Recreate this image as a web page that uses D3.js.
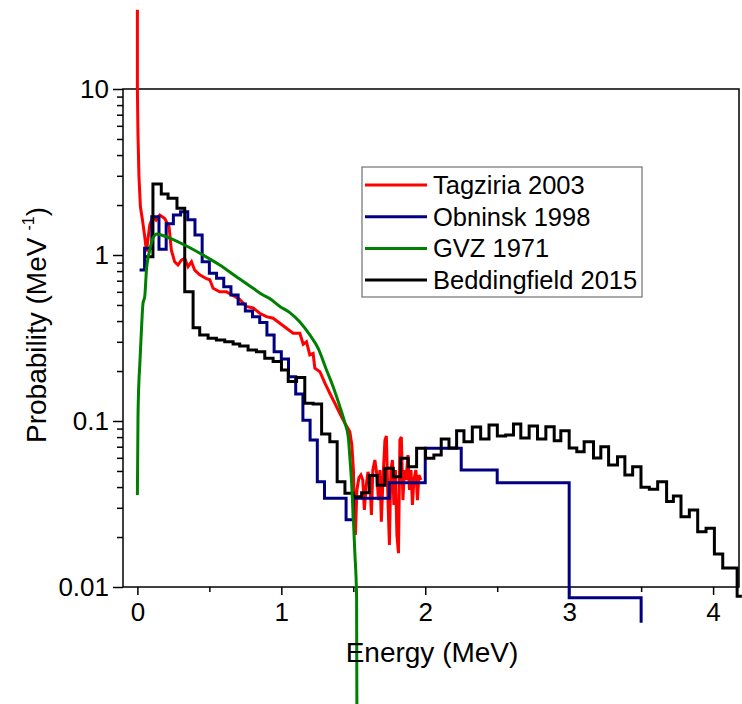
<!DOCTYPE html>
<html><head><meta charset="utf-8">
<script src="https://cdn.jsdelivr.net/npm/d3@7"></script>
<style>body{margin:0;background:#fff;} svg{display:block;} text{font-family:"Liberation Sans",Arial,sans-serif;}</style>
</head><body>
<svg id="c" width="742" height="704"></svg>
<script>
// ---------- data ----------
const seriesNames = ["Tagziria 2003", "Obninsk 1998", "GVZ 1971", "Beddingfield 2015"];
const xTicks = [0, 1, 2, 3, 4];
const xMinorTicks = [0.5, 1.5, 2.5, 3.5];
const yTicks = [0.01, 0.1, 1, 10];
const yTickLabels = ["0.01", "0.1", "1", "10"];

// Tagziria 2003 (line)
const redE = [0.000,0.000,0.004,0.011,0.021,0.035,0.051,0.063,0.086,0.108,0.130,0.155,0.190,0.220,0.236,0.259,0.282,0.306,0.329,0.352,0.376,0.398,0.433,0.480,0.503,0.526,0.572,0.619,0.665,0.711,0.758,0.804,0.850,0.897,0.943,0.990,1.036,1.082,1.129,1.152,1.175,1.198,1.221,1.233,1.268,1.303,1.337,1.372,1.407,1.442,1.476,
  1.490,1.501,1.508,1.515,1.525,1.539,1.553,1.566,1.577,1.588,1.602,1.615,1.626,1.636,1.650,1.664,1.675,1.685,1.695,1.706,1.720,1.730,1.741,1.751,1.761,1.772,1.782,1.793,1.803,1.814,1.824,1.834,1.845,1.855,1.866,1.880,1.890,1.901,1.911,1.921,1.935,1.946,1.956,1.970];
const redP = [30,10,5.4,2.96,1.95,1.63,1.29,1.05,1.52,1.70,1.62,1.74,1.66,1.48,1.07,0.91,0.87,0.93,0.955,0.85,0.91,0.81,0.76,0.72,0.71,0.63,0.60,0.60,0.57,0.54,0.49,0.48,0.446,0.425,0.416,0.388,0.362,0.338,0.338,0.290,0.300,0.250,0.255,0.208,0.198,0.169,0.147,0.128,0.111,0.097,0.086,
  0.0717,0.0507,0.0254,0.0206,0.0384,0.0454,0.0473,0.0441,0.0291,0.0395,0.0493,0.0454,0.0272,0.0507,0.0582,0.0473,0.0334,0.0507,0.0247,0.0441,0.0769,0.0812,0.0334,0.0179,0.0507,0.0582,0.0312,0.0507,0.0206,0.0160,0.0769,0.0801,0.0334,0.0507,0.0441,0.0624,0.0384,0.0507,0.0312,0.0441,0.0507,0.0334,0.0473,0.0441];

// Obninsk 1998 (histogram: bin edges and values)
const blueEdges = [0.015,0.05,0.10,0.15,0.20,0.25,0.30,0.35,0.40,0.45,0.50,0.55,0.60,0.65,0.70,0.75,0.80,0.85,0.90,0.95,1.00,1.05,1.10,1.15,1.20,1.25,1.30,1.45,1.50,1.75,2.00,2.25,2.50,3.00,3.50];
const blueValues = [0.813,1.097,1.70,1.082,1.54,1.74,1.82,1.63,1.32,0.912,0.776,0.724,0.644,0.574,0.507,0.460,0.425,0.392,0.330,0.261,0.236,0.185,0.1455,0.101,0.0769,0.043,0.0342,0.0254,0.0342,0.0425,0.0685,0.0507,0.0425,0.0086];
const blueTail = 0.0061;

// GVZ 1971 (line)
const greenE = [0,0.004,0.011,0.016,0.028,0.039,0.051,0.063,0.086,0.108,0.136,0.167,0.225,0.341,0.456,0.572,0.688,0.804,0.873,0.920,0.990,1.059,1.129,1.198,1.256,1.314,1.360,1.407,1.442,1.465,1.476,1.488,1.499,1.511,1.523,1.525];
const greenP = [0.0358,0.1014,0.1766,0.2124,0.353,0.512,0.561,0.813,1.072,1.262,1.339,1.32,1.262,1.133,1.0,0.871,0.740,0.630,0.574,0.546,0.49,0.450,0.395,0.330,0.274,0.203,0.161,0.122,0.097,0.0804,0.061,0.043,0.0278,0.016,0.0087,0.0019];

// Beddingfield 2015 (histogram)
const blackEdges = [0.051,0.108,0.166,0.213,0.275,0.329,0.387,0.433,0.491,0.549,0.607,0.665,0.711,0.769,0.827,0.885,0.943,1.001,1.048,1.106,1.163,1.221,1.280,1.337,1.388,1.442,1.499,1.558,1.611,1.666,1.720,1.778,1.829,1.882,1.940,2.002,2.060,2.111,2.165,2.218,2.269,2.327,2.385,2.443,2.501,2.559,2.613,2.664,2.722,2.780,2.838,2.896,2.942,3.000,3.053,3.104,3.169,3.220,3.274,3.336,3.387,3.441,3.499,3.557,3.615,3.677,3.724,3.777,3.835,3.893,3.951,4.009,4.067,4.114,4.167,4.200];
const blackValues = [0.977,2.68,2.33,2.20,1.91,0.601,0.365,0.330,0.315,0.308,0.300,0.291,0.283,0.268,0.261,0.239,0.228,0.203,0.173,0.183,0.128,0.1265,0.0836,0.075,0.043,0.0367,0.035,0.037,0.047,0.041,0.0519,0.0461,0.0596,0.053,0.0685,0.0596,0.0624,0.078,0.0688,0.0874,0.075,0.092,0.078,0.0946,0.0813,0.0824,0.096,0.079,0.0933,0.078,0.0924,0.076,0.0874,0.0688,0.0653,0.075,0.0598,0.070,0.0543,0.061,0.0473,0.053,0.0399,0.0388,0.043,0.0327,0.0353,0.0265,0.0291,0.0215,0.0226,0.0158,0.0130,0.0130,0.0088];

const colors = ["#ff0000", "#000080", "#008000", "#000000"];

// ---------- chart ----------
const svg = d3.select("#c");
const L = 123, R = 739, T = 89, B = 587;
const x = d3.scaleLinear().domain([-0.1, 4.18]).range([L, R]);
const y = d3.scaleLog().domain([0.01, 10]).range([B, T]);

function stepPoints(edges, vals, tail) {
  const pts = [];
  vals.forEach((v, i) => { pts.push([edges[i], v]); pts.push([edges[i + 1], v]); });
  if (tail !== undefined) pts.push([edges[edges.length - 1], tail]);
  return pts;
}
const line = d3.line().x(d => x(d[0])).y(d => y(d[1]));
const smooth = d3.line().x(d => x(d[0])).y(d => y(d[1])).curve(d3.curveMonotoneX);

// frame
svg.append("rect").attr("x", L).attr("y", T).attr("width", R - L).attr("height", B - T)
  .attr("fill", "none").attr("stroke", "#000").attr("stroke-width", 1.5);

// axes
const fs = 26;
svg.append("g").attr("transform", `translate(0,${B})`)
  .call(d3.axisBottom(x).tickValues(xTicks).tickFormat(d3.format("d")).tickSize(8).tickPadding(8));
svg.append("g").attr("transform", `translate(0,${B})`)
  .call(d3.axisBottom(x).tickValues(xMinorTicks).tickFormat("").tickSize(5));
svg.append("g").attr("transform", `translate(${L},0)`)
  .call(d3.axisLeft(y).tickValues(yTicks).tickFormat((d, i) => yTickLabels[i]).tickSize(10).tickPadding(4));
const minors = [];
[0.01, 0.1, 1].forEach(b => { for (let k = 2; k <= 9; k++) minors.push(b * k); });
svg.append("g").attr("transform", `translate(${L},0)`)
  .call(d3.axisLeft(y).tickValues(minors).tickFormat("").tickSize(6));
svg.selectAll(".domain").remove();
svg.selectAll(".tick line").attr("stroke", "#000").attr("stroke-width", 1.5);
svg.selectAll(".tick text").attr("font-size", fs).attr("fill", "#000")
  .style("font-family", "'Liberation Sans', Arial, sans-serif");

// series
const g = svg.append("g").attr("fill", "none").attr("stroke-width", 3).attr("stroke-linejoin", "miter");
const redPts = redE.map((e, i) => [e, redP[i]]);
g.append("path").attr("d", line(redPts)).attr("stroke", colors[0]);
g.append("path").attr("d", line(stepPoints(blueEdges, blueValues, blueTail))).attr("stroke", colors[1]);
g.append("path").attr("d", line(stepPoints(blackEdges, blackValues))).attr("stroke", colors[3]);
const greenPts = greenE.map((e, i) => [e, greenP[i]]);
g.append("path").attr("d", smooth(greenPts)).attr("stroke", colors[2]);

// axis titles
svg.append("text").attr("x", 432).attr("y", 662).attr("text-anchor", "middle")
  .attr("font-size", 28).text("Energy (MeV)");
const yl = svg.append("text").attr("transform", "translate(46,325) rotate(-90)")
  .attr("text-anchor", "middle").attr("font-size", 28);
yl.append("tspan").text("Probability (MeV");
yl.append("tspan").attr("font-size", 16).attr("dy", -12).attr("dx", 7).text("-1");
yl.append("tspan").attr("dy", 12).text(")");

// legend
const lg = svg.append("g");
lg.append("rect").attr("x", 362).attr("y", 167).attr("width", 280).attr("height", 130)
  .attr("fill", "#fff").attr("stroke", "#555").attr("stroke-width", 1);
seriesNames.forEach((n, i) => {
  const yy = 185 + i * 31.7;
  lg.append("line").attr("x1", 365).attr("x2", 427).attr("y1", yy).attr("y2", yy)
    .attr("stroke", colors[i]).attr("stroke-width", 3);
  lg.append("text").attr("x", 433).attr("y", yy + 9).attr("font-size", 25.5).text(n);
});
</script>
</body></html>
